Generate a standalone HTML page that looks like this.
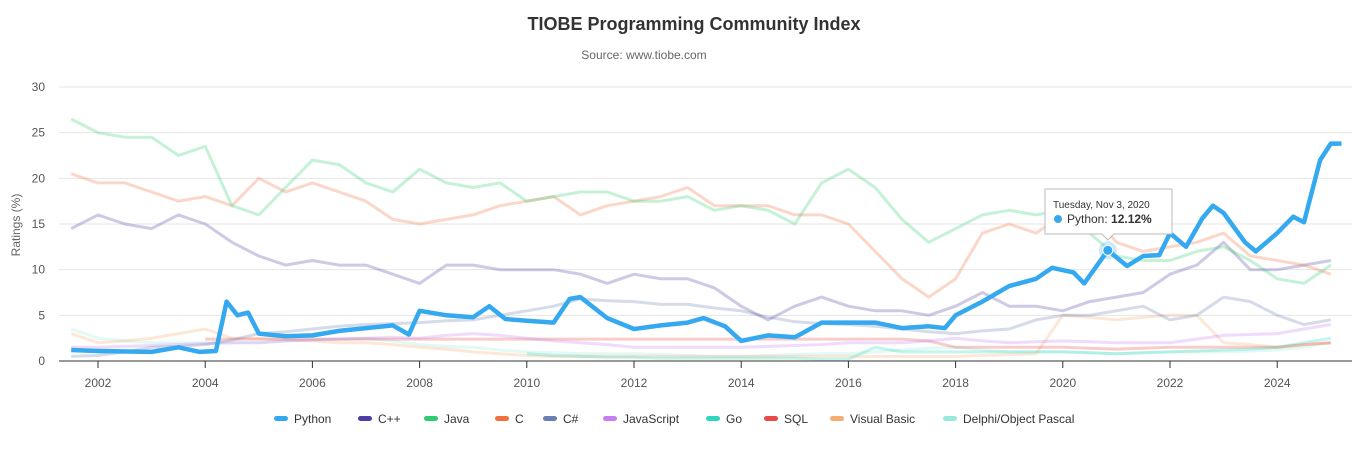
<!DOCTYPE html>
<html><head><meta charset="utf-8"><style>
body{margin:0;background:#fff;font-family:"Liberation Sans",sans-serif;}
svg{display:block}
</style></head><body>
<svg id="chart" width="1366" height="450">
<text x="694" y="30" text-anchor="middle" font-size="18" font-weight="bold" fill="#333">TIOBE Programming Community Index</text>
<text x="644" y="59" text-anchor="middle" font-size="12" fill="#666">Source: www.tiobe.com</text>
<text transform="translate(20,225) rotate(-90)" text-anchor="middle" font-size="12" fill="#666">Ratings (%)</text>
<g id="grid"></g><g id="series"></g><g id="xaxis"></g><g id="legend"></g><g id="tip"></g>
</svg>
<script>
const dates=[2001.5,2002,2002.5,2003,2003.5,2004,2004.5,2005,2005.5,2006,2006.5,2007,2007.5,2008,2008.5,2009,2009.5,2010,2010.5,2011,2011.5,2012,2012.5,2013,2013.5,2014,2014.5,2015,2015.5,2016,2016.5,2017,2017.5,2018,2018.5,2019,2019.5,2020,2020.5,2021,2021.5,2022,2022.5,2023,2023.5,2024,2024.5,2025];
const javaVals=[26.5,25,24.5,24.5,22.5,23.5,17,16,19,22,21.5,19.5,18.5,21,19.5,19,19.5,17.5,18,18.5,18.5,17.5,17.5,18,16.5,17,16.5,15,19.5,21,19,15.5,13,14.5,16,16.5,16,16.5,14,11.5,11,11,12,12.5,11,9,8.5,10.5];
const cVals=[20.5,19.5,19.5,18.5,17.5,18,17,20,18.5,19.5,18.5,17.5,15.5,15,15.5,16,17,17.5,18,16,17,17.5,18,19,17,17,17,16,16,15,12,9,7,9,14,15,14,16,16.5,13,12,12.5,13,14,11.5,11,10.5,9.5];
const cppVals=[14.5,16,15,14.5,16,15,13,11.5,10.5,11,10.5,10.5,9.5,8.5,10.5,10.5,10,10,10,9.5,8.5,9.5,9,9,8,6,4.5,6,7,6,5.5,5.5,5,6,7.5,6,6,5.5,6.5,7,7.5,9.5,10.5,13,10,10,10.5,11];
const csVals=[0.5,0.6,1,1.5,1.6,1.8,2.3,3,3.2,3.5,3.8,4,4.1,4.2,4.4,4.5,5,5.5,6,6.8,6.6,6.5,6.2,6.2,5.8,5.5,4.8,4.3,4.1,4,3.8,3.5,3.2,3,3.3,3.5,4.5,5,5,5.5,6,4.5,5,7,6.5,5,4,4.5];
const jsVals=[1.5,1.5,1.6,1.7,1.8,1.9,2,2,2.2,2.3,2.4,2.5,2.6,2.5,2.8,3,2.8,2.5,2.2,2,1.8,1.5,1.5,1.5,1.5,1.5,1.6,1.7,1.8,2,2,2,2.2,2.5,2.2,2,2.1,2.2,2.1,2,2,2,2.4,2.8,2.9,3,3.5,4];
const goVals=[null,null,null,null,null,null,null,null,null,null,null,null,null,null,null,null,null,0.8,0.6,0.5,0.4,0.4,0.3,0.3,0.3,0.3,0.3,0.3,0.2,0.2,1.5,1,1,1,1,1,1,1,0.9,0.8,0.9,1,1.1,1.2,1.3,1.5,2,2.5];
const sqlVals=[null,null,null,null,null,2.4,2.4,2.4,2.4,2.4,2.4,2.4,2.4,2.4,2.4,2.4,2.4,2.4,2.4,2.4,2.4,2.4,2.4,2.4,2.4,2.4,2.4,2.4,2.4,2.4,2.4,2.4,2.2,1.5,1.5,1.5,1.5,1.5,1.4,1.3,1.4,1.5,1.5,1.5,1.5,1.5,1.8,2];
const vbVals=[3,2,2.2,2.5,3,3.5,2.5,2.5,2.3,2.2,2,2,1.8,1.5,1.3,1,0.8,0.6,0.5,0.5,0.5,0.5,0.5,0.5,0.5,0.5,0.5,0.5,0.5,0.5,0.5,0.5,0.5,0.5,0.6,0.7,0.8,5,4.8,4.5,4.8,5,5,2,1.8,1.5,1.8,2];
const delphiVals=[3.5,2.5,2.2,2,2,2,2,2,2.2,2.3,2.4,2.5,2.2,1.8,1.6,1.5,1.2,1,0.9,0.8,0.8,0.8,0.7,0.6,0.5,0.5,0.6,0.7,0.8,0.8,1,1.2,1.4,1.5,1.2,1,1,1,0.9,0.8,0.9,1,1,1,1.1,1.2,1.5,2];
const pyDates=[2001.5,2002,2003,2003.5,2003.9,2004.2,2004.4,2004.6,2004.8,2005,2005.5,2006,2006.5,2007,2007.5,2007.8,2008,2008.5,2009,2009.3,2009.6,2010,2010.5,2010.8,2011,2011.5,2012,2012.5,2013,2013.3,2013.7,2014,2014.5,2015,2015.5,2016,2016.5,2017,2017.5,2017.8,2018,2018.5,2019,2019.5,2019.8,2020.2,2020.4,2020.84,2021.2,2021.5,2021.8,2022,2022.3,2022.6,2022.8,2023,2023.4,2023.6,2023.8,2024,2024.3,2024.5,2024.8,2025,2025.2];
const pyVals=[1.2,1.1,1.0,1.5,1.0,1.1,6.5,5.0,5.3,3,2.7,2.8,3.3,3.6,3.9,2.9,5.5,5.0,4.8,6.0,4.6,4.4,4.2,6.8,7.0,4.7,3.5,3.9,4.2,4.7,3.8,2.2,2.8,2.6,4.2,4.2,4.2,3.6,3.8,3.6,5.0,6.5,8.2,9.0,10.2,9.7,8.5,12.12,10.4,11.5,11.6,14,12.5,15.6,17.0,16.2,13.0,12.0,13.0,14.0,15.8,15.2,22.0,23.8,23.8];
const yTicks=[0,5,10,15,20,25,30];
const xTicks=[2002,2004,2006,2008,2010,2012,2014,2016,2018,2020,2022,2024];
const legendNames=["Python","C++","Java","C","C#","JavaScript","Go","SQL","Visual Basic","Delphi/Object Pascal"];

const NS="http://www.w3.org/2000/svg";
const X=t=>98+(t-2002)*53.6;
const Y=v=>361-v*9.133;
function mk(tag,attrs,parent){const e=document.createElementNS(NS,tag);for(const k in attrs)e.setAttribute(k,attrs[k]);parent.appendChild(e);return e;}
const grid=document.getElementById('grid');
yTicks.forEach(v=>{
  if(v>0){const l=mk('line',{x1:59,x2:1352,y1:Y(v),y2:Y(v),stroke:'#e6e6e6'},grid);
  
  }
  const t=mk('text',{x:45,y:Y(v)+4,'text-anchor':'end','font-size':12,fill:'#555'},grid);t.textContent=v;
  
  
});
const xa=document.getElementById('xaxis');
const ax=mk('line',{x1:59,x2:1352,y1:361,y2:361,stroke:'#333'},xa);


xTicks.forEach(y=>{
  mk('line',{x1:X(y),x2:X(y),y1:361,y2:368,stroke:'#333'},xa);
  const t=mk('text',{x:X(y),y:387,'text-anchor':'middle','font-size':12,fill:'#555'},xa);t.textContent=y;
  
  
});
const colors=["#35a9f0","#4b3fa3","#2ecc71","#f07040","#6b7fb3","#c77ef0","#2ed6c0","#e84848","#f4ae70","#98e8dc"];
const sg=document.getElementById('series');
function path(ds,vs){let d='',pen=false;ds.forEach((t,i)=>{const v=vs[i];if(v==null){pen=false;return;}d+=(pen?'L':'M')+X(t).toFixed(1)+','+Y(v).toFixed(1);pen=true;});return d;}
const faded=[[delphiVals,9],[vbVals,8],[sqlVals,7],[goVals,6],[jsVals,5],[csVals,4],[cppVals,1],[cVals,3],[javaVals,2]];
faded.forEach(([vals,ci])=>{
  const p=mk('path',{d:path(dates,vals),fill:'none',stroke:colors[ci],'stroke-width':3,'stroke-opacity':0.28,'stroke-linejoin':'round'},sg);
  
  
});
const py=mk('path',{d:path(pyDates,pyVals),fill:'none',stroke:colors[0],'stroke-width':4.5,'stroke-linejoin':'round'},sg);


// legend
const lg=document.getElementById('legend');
const lx=[274,358,424,495,543,603,706,764,830,943];
legendNames.forEach((n,i)=>{
  const g=mk('g',{},lg);
  
  
  mk('rect',{x:lx[i],y:416,width:14,height:5,rx:2.5,fill:colors[i]},g);
  const t=mk('text',{x:lx[i]+20,y:423,'font-size':12,fill:'#333'},g);t.textContent=n;
});
// tooltip
const tp=document.getElementById('tip');
const hv=pyVals[pyDates.indexOf(2020.84)];
const cx=X(2020.84),cy=Y(hv);
mk('circle',{cx:cx,cy:cy,r:9,fill:colors[0],'fill-opacity':0.25},tp);
const dot=mk('circle',{cx:cx,cy:cy,r:5,fill:colors[0],stroke:'#fff','stroke-width':1},tp);


const box=mk('path',{d:`M1045,189 H1172 V234 H${cx+6} L${cx},240 L${cx-6},234 H1045 Z`,fill:'#fff',stroke:'#bbb'},tp);


const t1=mk('text',{x:1053,y:208,'font-size':10,fill:'#333'},tp);t1.textContent='Tuesday, Nov 3, 2020';
mk('circle',{cx:1058,cy:219,r:4,fill:colors[0]},tp);
const t2=mk('text',{x:1067,y:223,'font-size':12,fill:'#333'},tp);
t2.innerHTML='Python: <tspan font-weight="bold">'+hv.toFixed(2)+'%</tspan>';
</script>
</body></html>
